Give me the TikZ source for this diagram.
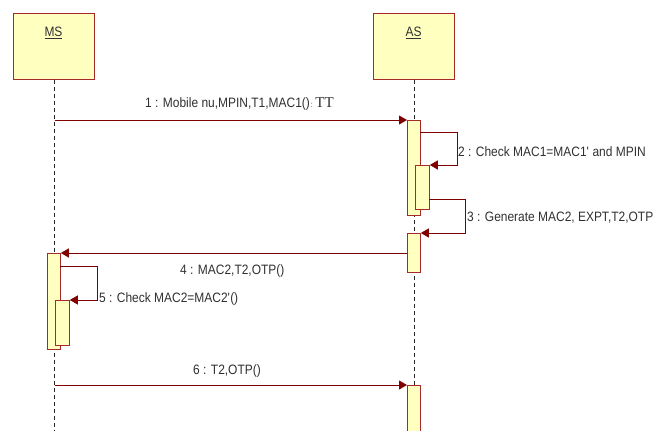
\documentclass[tikz,border=0pt]{standalone}
\usepackage{fontspec}
\setmainfont[FakeStretch=0.88]{Liberation Sans}
\newfontfamily\serifTT{Liberation Serif}
\usetikzlibrary{arrows.meta}
\definecolor{boxred}{HTML}{A52A2A}
\definecolor{boxfill}{HTML}{FFFFC0}
\definecolor{msgred}{HTML}{800000}
\definecolor{txt}{HTML}{303030}
\tikzset{
  obj/.style={draw=boxred, fill=boxfill, line width=0.9pt, minimum width=81pt, minimum height=66pt, inner sep=0pt},
  actbox/.style={draw=boxred, fill=boxfill, line width=0.8pt, inner sep=0pt, anchor=north west},
  msg/.style={draw=msgred, line width=0.9pt, -{Triangle[length=8pt,width=9pt]}},
  life/.style={draw=black!85, line width=0.6pt, dash pattern=on 4pt off 3pt},
  lbl/.style={text=txt, font=\fontsize{13.6}{15}\selectfont, inner sep=0pt, anchor=west}
}
\begin{document}
\begin{tikzpicture}[x=1pt,y=-1pt]
\useasboundingbox (0,0) rectangle (654,431);
% objects
\node[obj] (ms) at (53.5,46.5) {};
\node[obj] (as) at (413.5,46.5) {};
\node[text=txt, font=\fontsize{13.6}{15}\selectfont, inner sep=0pt] (mslbl) at (53.5,33) {\underline{MS}};
\node[text=txt, font=\fontsize{13.6}{15}\selectfont, inner sep=0pt] (aslbl) at (413.5,33) {\underline{AS}};
% lifelines
\coordinate (msend) at (54.5,431);
\coordinate (asend) at (414,431);
\draw[life] (ms.south -| msend) -- (msend);
\draw[life] (as.south -| asend) -- (asend);
% activations
\node[actbox, minimum width=13pt, minimum height=95pt] (a1) at (407,120) {};
\node[actbox, minimum width=14pt, minimum height=44pt] (a2) at (415,165) {};
\node[actbox, minimum width=13pt, minimum height=39pt] (a3) at (407,233) {};
\node[actbox, minimum width=13pt, minimum height=46pt] (a4) at (407,385) {};
\node[actbox, minimum width=13pt, minimum height=96pt] (m1) at (47,253) {};
\node[actbox, minimum width=14pt, minimum height=45pt] (m2) at (55,300) {};
% messages
\coordinate (s1) at (54.5,120);
\draw[msg] (s1) -- (a1.north west);
\coordinate (s2) at (420,132);
\draw[msg] (s2) -- (457,132) -- (457,165) -- (a2.north east);
\coordinate (s3) at (429,199);
\draw[msg] (s3) -- (465,199) -- (465,233) -- (a3.north east);
\coordinate (s4) at (407,253);
\draw[msg] (s4) -- (m1.north east);
\coordinate (s5) at (60,266);
\draw[msg] (s5) -- (97,266) -- (97,300) -- (m2.north east);
\coordinate (s6) at (54.5,385);
\draw[msg] (s6) -- (a4.north west);
% labels
\node[lbl] (l1) at (145,104) {1 : Mobile nu,MPIN,T1,MAC1()};
\node[lbl, anchor=base west] (l1b) at ([xshift=0.5pt]l1.base east) {\fontsize{8}{8}\selectfont: \fontsize{15}{15}\selectfont\serifTT TT};
\node[lbl] (l2) at (458,152) {2 : Check MAC1=MAC1\textquotesingle{} and MPIN};
\node[lbl] (l3) at (467,218) {3 : Generate MAC2, EXPT,T2,OTP};
\node[lbl] (l4) at (180,271) {4 : MAC2,T2,OTP()};
\node[lbl] (l5) at (99,299) {5 : Check MAC2=MAC2\textquotesingle()};
\node[lbl] (l6) at (193,371) {6 : T2,OTP()};
\end{tikzpicture}
\end{document}
